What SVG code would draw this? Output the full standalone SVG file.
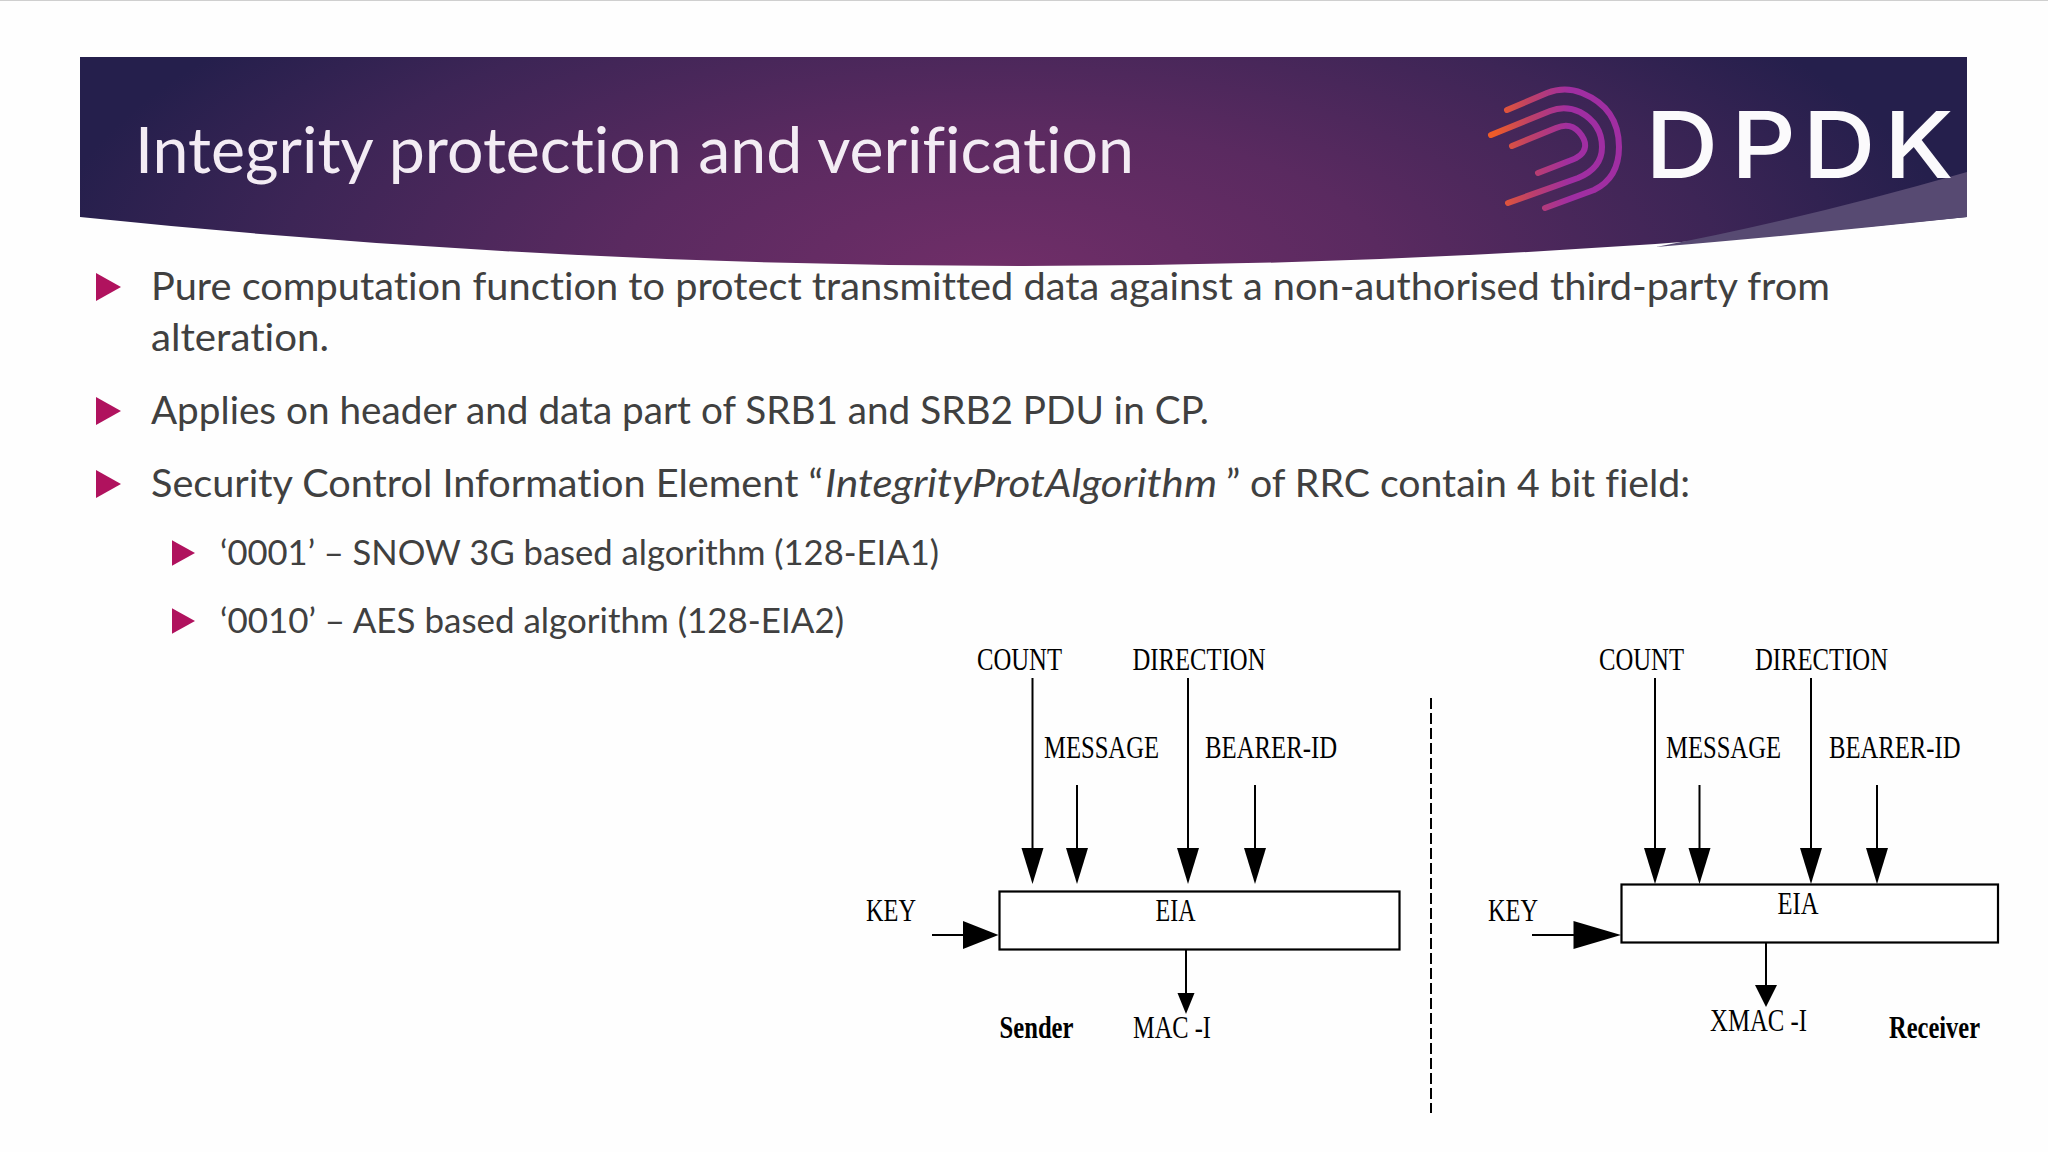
<svg xmlns="http://www.w3.org/2000/svg" width="2048" height="1152" viewBox="0 0 2048 1152">
<defs>
<radialGradient id="bannerFill" gradientUnits="userSpaceOnUse" cx="0" cy="0" r="960" gradientTransform="translate(1000 275) scale(1 .4)">
<stop offset="0" stop-color="#702e68"/><stop offset=".4" stop-color="#5a2a60"/><stop offset=".75" stop-color="#3d2556"/><stop offset="1" stop-color="#251f4c"/>
</radialGradient>
<linearGradient id="logoStroke" gradientUnits="userSpaceOnUse" x1="1495" y1="0" x2="1570" y2="0">
<stop offset="0" stop-color="#ee5c28"/><stop offset=".5" stop-color="#bb3f6c"/><stop offset="1" stop-color="#a02ea2"/>
</linearGradient>
<polygon id="headBig" points="-11,-36 11,-36 0,0" fill="#000"/>
<polygon id="headSmall" points="-8.5,-21 8.5,-21 0,0" fill="#000"/>
<polygon id="headOut" points="-11,-22 11,-22 0,0" fill="#000"/>
<polygon id="bulletMain" points="0,-14 25,0 0,14"/>
<polygon id="bulletSub" points="0,-12.7 23,0 0,12.7"/>
</defs>
<style>
text{font-variant-ligatures:none}
.body{font-family:"Lato","Liberation Sans",sans-serif;font-size:38.5px;fill:#404040}
.sub{font-size:35.5px}
.fig{font-family:"Liberation Serif","Times New Roman",serif;font-size:32px;fill:#000}
.figb{font-weight:700}
.line{stroke:#000;stroke-width:2;fill:none}
.box{stroke:#000;stroke-width:2.2;fill:#fff}
.logo{stroke:url(#logoStroke);stroke-width:6;fill:none;stroke-linecap:round;stroke-linejoin:round}
.bullet{fill:#b0125e}
</style>
<rect width="2048" height="1152" fill="#fefefe"/>
<rect width="2048" height="1" fill="#cfcfcf"/>
<g id="banner">
<path d="M80,57 H1967 V217 Q1024,315 80,217 Z" fill="url(#bannerFill)"/>
<path d="M1967,172 V217 Q1800,235 1656,247 Q1800,220 1967,172 Z" fill="#574a72"/>
<text x="135" y="173" font-family="Lato, 'Open Sans', sans-serif" font-weight="400" font-size="63" fill="#f3ecf4" textLength="999" lengthAdjust="spacingAndGlyphs">Integrity protection and verification</text>
</g>
<g id="logo">
<path class="logo" d="M1507,110 L1547,93 Q1565,86 1582,93 Q1619,108 1619,147 Q1619,178 1594,190 L1545,208"/>
<path class="logo" d="M1491,135 L1550,111 Q1565,105 1580,112 Q1602,124 1602,147 Q1602,168 1578,178 L1508,203"/>
<path class="logo" d="M1512,146 L1556,128 Q1570,122 1579,132 Q1586,140 1585,147 Q1584,156 1569,161 L1538,173"/>
<text transform="translate(1653 177.5) scale(1.1 1)" y="0" x="-7 71 136 210" font-family="Inter, 'Open Sans', sans-serif" font-weight="500" font-size="92" fill="#fbfafc">DPDK</text>
</g>
<g id="bullets">
<g class="bullet">
<use href="#bulletMain" x="96" y="287"/>
<use href="#bulletMain" x="96" y="411"/>
<use href="#bulletMain" x="96" y="484"/>
<use href="#bulletSub" x="172" y="553"/>
<use href="#bulletSub" x="172" y="621"/>
</g>
<text class="body" x="151" y="300" textLength="1679" lengthAdjust="spacingAndGlyphs">Pure computation function to protect transmitted data against a non-authorised third-party from</text>
<text class="body" x="151" y="351" textLength="178" lengthAdjust="spacingAndGlyphs">alteration.</text>
<text class="body" x="151" y="424" textLength="1058" lengthAdjust="spacingAndGlyphs">Applies on header and data part of SRB1 and SRB2 PDU in CP.</text>
<text class="body" x="151" y="496.5" textLength="672" lengthAdjust="spacingAndGlyphs">Security Control Information Element “</text>
<text class="body" x="825" y="496.5" font-style="italic" textLength="392" lengthAdjust="spacingAndGlyphs">IntegrityProtAlgorithm</text>
<text class="body" x="1226" y="496.5" textLength="464" lengthAdjust="spacingAndGlyphs">” of RRC contain 4 bit field:</text>
<text class="body sub" x="220" y="565" textLength="719" lengthAdjust="spacingAndGlyphs">‘0001’ – SNOW 3G based algorithm (128-EIA1)</text>
<text class="body sub" x="220" y="633" textLength="624" lengthAdjust="spacingAndGlyphs">‘0010’ – AES based algorithm (128-EIA2)</text>
</g>
<g id="connectors">
<path class="line" d="M1032.5,678V850M1077,785V850M1188,678V850M1255,785V850M932,935H965M1186,950V995"/>
<use href="#headBig" x="1032.5" y="884"/>
<use href="#headBig" x="1077" y="884"/>
<use href="#headBig" x="1188" y="884"/>
<use href="#headBig" x="1255" y="884"/>
<polygon points="963,921 998.5,935 963,949" fill="#000"/>
<use href="#headSmall" x="1186" y="1014"/>
<path class="line" d="M1655,678V850M1699.5,785V850M1811,678V850M1877,785V850M1532,935H1575M1766,943V987"/>
<use href="#headBig" x="1655" y="884"/>
<use href="#headBig" x="1699.5" y="884"/>
<use href="#headBig" x="1811" y="884"/>
<use href="#headBig" x="1877" y="884"/>
<polygon points="1573.5,921 1621,935 1573.5,949" fill="#000"/>
<use href="#headOut" x="1766" y="1007"/>
<path d="M1431,698V1113" stroke="#000" stroke-width="2" stroke-dasharray="11 4" fill="none"/>
</g>
<g id="sender-eia">
<rect class="box" x="999.5" y="891.5" width="400" height="58"/>
<text class="fig" x="1155.5" y="921" textLength="40" lengthAdjust="spacingAndGlyphs">EIA</text>
</g>
<g id="receiver-eia">
<rect class="box" x="1621.5" y="884.5" width="376.5" height="58"/>
<text class="fig" x="1777.5" y="914" textLength="41" lengthAdjust="spacingAndGlyphs">EIA</text>
</g>
<g id="sender-labels">
<text class="fig" x="977" y="670" textLength="85" lengthAdjust="spacingAndGlyphs">COUNT</text>
<text class="fig" x="1132.5" y="670" textLength="133" lengthAdjust="spacingAndGlyphs">DIRECTION</text>
<text class="fig" x="1044" y="757.5" textLength="115" lengthAdjust="spacingAndGlyphs">MESSAGE</text>
<text class="fig" x="1205" y="757.5" textLength="132" lengthAdjust="spacingAndGlyphs">BEARER-ID</text>
<text class="fig" x="866" y="921" textLength="50" lengthAdjust="spacingAndGlyphs">KEY</text>
<text class="fig figb" x="999.5" y="1038" textLength="74" lengthAdjust="spacingAndGlyphs">Sender</text>
<text class="fig" x="1133" y="1038" textLength="78" lengthAdjust="spacingAndGlyphs">MAC -I</text>
</g>
<g id="receiver-labels">
<text class="fig" x="1599" y="670" textLength="85" lengthAdjust="spacingAndGlyphs">COUNT</text>
<text class="fig" x="1755" y="670" textLength="133" lengthAdjust="spacingAndGlyphs">DIRECTION</text>
<text class="fig" x="1666" y="757.5" textLength="115" lengthAdjust="spacingAndGlyphs">MESSAGE</text>
<text class="fig" x="1829" y="757.5" textLength="131.5" lengthAdjust="spacingAndGlyphs">BEARER-ID</text>
<text class="fig" x="1488" y="921" textLength="50" lengthAdjust="spacingAndGlyphs">KEY</text>
<text class="fig" x="1710" y="1031" textLength="97" lengthAdjust="spacingAndGlyphs">XMAC -I</text>
<text class="fig figb" x="1889" y="1038" textLength="91" lengthAdjust="spacingAndGlyphs">Receiver</text>
</g>
</svg>
